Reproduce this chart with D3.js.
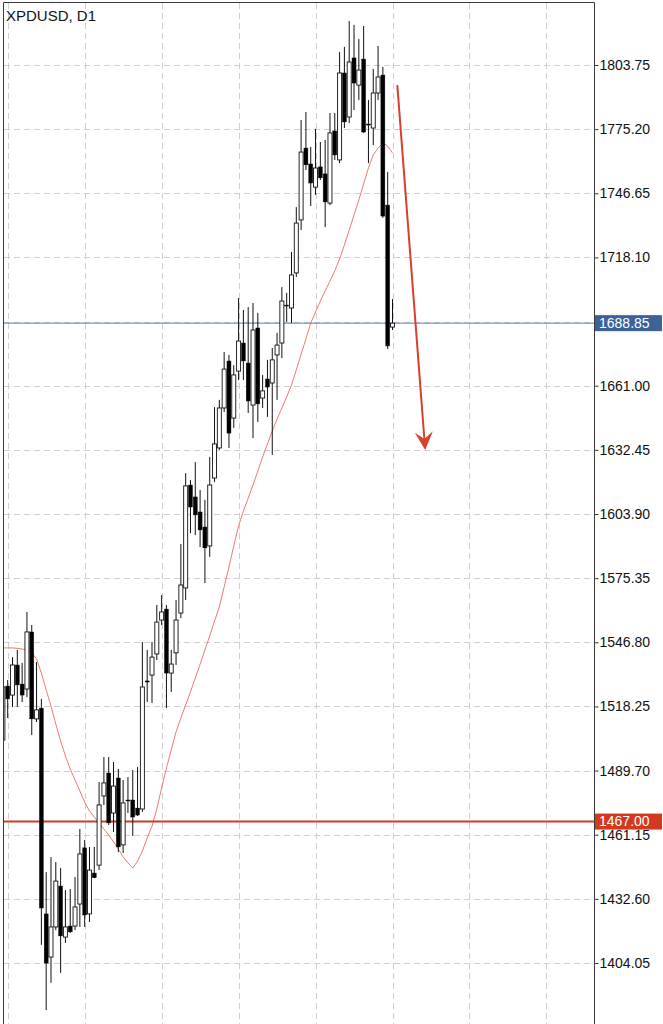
<!DOCTYPE html>
<html><head><meta charset="utf-8">
<script src="https://cdn.jsdelivr.net/npm/d3@7"></script>
<style>html,body{margin:0;padding:0;background:#fff;overflow:hidden}svg{display:block}</style>
</head><body><svg id="c" width="663" height="1024"></svg>
<script>
const chartTitle = "XPDUSD, D1";
const days = d3.range(-1, 81);
const open = [1503.3,1527.3,1523.3,1536.7,1528.2,1526.0,1551.4,1512.7,1517.5,1425.9,1406.7,1420.1,1438.3,1415.6,1420.5,1420.5,1430.3,1455.3,1425.9,1444.1,1447.6,1478.4,1488.6,1470.8,1486.4,1456.6,1476.6,1476.6,1473.0,1472.6,1529.6,1532.2,1541.6,1556.7,1561.6,1533.1,1542.1,1559.8,1571.0,1616.8,1611.5,1604.8,1598.1,1589.7,1619.9,1633.3,1651.1,1672.0,1646.6,1667.5,1680.0,1671.1,1652.4,1686.7,1655.5,1664.0,1662.2,1674.7,1680.0,1696.9,1695.6,1711.2,1734.8,1766.8,1759.7,1749.4,1758.4,1755.3,1742.3,1774.4,1761.5,1800.2,1780.6,1806.9,1794.8,1806.4,1777.5,1775.7,1791.3,1799.3,1741.4,1687.1];
const high = [1530.0,1530.0,1540.2,1543.4,1537.6,1560.3,1554.5,1538.0,1521.6,1444.5,1451.2,1449.0,1446.3,1436.5,1437.0,1442.3,1463.7,1458.8,1455.7,1455.7,1484.6,1495.7,1495.7,1493.5,1490.4,1485.5,1486.8,1490.0,1491.3,1546.9,1543.4,1546.9,1563.4,1567.8,1563.4,1543.4,1565.6,1590.5,1622.1,1619.0,1627.0,1614.6,1610.2,1629.3,1651.5,1654.7,1676.0,1674.7,1670.2,1700.0,1694.7,1696.0,1697.8,1693.4,1665.8,1672.5,1677.8,1684.5,1704.9,1702.3,1720.5,1740.5,1779.3,1782.8,1767.3,1775.3,1769.5,1770.4,1782.4,1782.4,1809.5,1811.8,1823.3,1821.6,1815.3,1821.1,1788.2,1802.0,1812.2,1802.9,1756.1,1699.6];
const low = [1499.7,1513.1,1518.0,1518.0,1520.2,1522.4,1505.5,1511.3,1412.1,1383.1,1395.2,1418.7,1399.6,1413.0,1417.4,1418.7,1420.1,1420.1,1422.3,1441.8,1445.4,1474.4,1465.5,1462.4,1453.4,1453.0,1470.8,1460.6,1469.5,1471.3,1520.2,1519.8,1538.9,1554.5,1517.5,1524.7,1536.7,1557.6,1565.6,1595.4,1594.5,1589.2,1573.2,1584.8,1618.1,1632.4,1649.3,1633.3,1642.2,1663.5,1663.5,1648.9,1637.7,1644.9,1651.1,1647.1,1630.2,1654.7,1673.3,1689.4,1688.9,1709.4,1730.3,1757.0,1741.0,1745.9,1752.6,1731.6,1741.4,1761.5,1760.1,1775.7,1777.9,1783.7,1788.2,1773.5,1760.1,1768.1,1788.2,1735.7,1677.3,1685.8];
const close = [1526.9,1521.6,1536.7,1527.8,1523.3,1551.4,1512.7,1516.7,1428.5,1404.0,1420.1,1440.5,1416.1,1420.1,1417.9,1429.0,1452.6,1425.4,1445.4,1442.0,1474.4,1484.2,1466.4,1482.8,1455.7,1475.3,1476.2,1469.0,1469.9,1526.9,1529.1,1540.2,1555.8,1560.3,1533.1,1537.1,1556.7,1572.3,1616.4,1607.0,1603.5,1596.8,1588.8,1616.8,1635.1,1651.1,1668.4,1639.9,1665.8,1680.9,1672.0,1654.2,1685.8,1652.9,1658.7,1660.4,1672.5,1679.1,1698.7,1696.5,1710.3,1733.4,1765.0,1759.3,1751.2,1757.9,1753.5,1742.8,1773.5,1763.7,1800.2,1778.4,1805.1,1795.7,1801.5,1773.9,1777.0,1791.3,1798.4,1736.5,1678.7,1688.85];
const maValues = [1544.3,1544.3,1544.3,1544.1,1543.8,1543.4,1542.1,1539.4,1533.1,1525.6,1518.4,1510.4,1502.9,1496.2,1490.4,1485.5,1480.6,1475.7,1471.7,1469.0,1466.4,1463.7,1461.0,1457.9,1454.8,1451.2,1448.6,1446.3,1449.4,1453.9,1459.7,1465.0,1472.6,1481.9,1490.8,1498.9,1506.9,1513.1,1518.9,1524.7,1530.9,1537.1,1543.4,1549.6,1556.3,1562.5,1571.4,1580.3,1589.7,1598.6,1605.2,1611.0,1616.8,1623.0,1629.3,1635.1,1640.8,1646.2,1651.1,1656.0,1661.3,1668.0,1675.1,1681.8,1688.9,1693.8,1698.7,1703.2,1707.6,1712.1,1717.4,1723.6,1730.3,1737.0,1743.7,1750.8,1757.9,1763.7,1766.8,1769.0,1767.7,1764.6];
const priceTicks = [1803.75,1775.20,1746.65,1718.10,1689.55,1661.00,1632.45,1603.90,1575.35,1546.80,1518.25,1489.70,1461.15,1432.60,1404.05];
const gridDays = [0,16,32,48,64,80,96,112];
const currentPrice = 1688.85;
const levelPrice = 1467.00;
const arrowFrom = [81.0, 1794.8];
const arrowTo = [86.8, 1632.4];

const svg = d3.select("#c");
const plotL = 4, plotT = 3, plotR = 594, plotB = 1024;
const x = d3.scaleLinear().domain([0, 80]).range([7.7, 392.5]);
const y = d3.scaleLinear().domain([1404.05, 1803.75]).range([963, 65]);
const font = "'Liberation Sans', Arial, Helvetica, sans-serif";

svg.append("rect").attr("width", 663).attr("height", 1024).attr("fill", "#fff");
svg.append("defs").append("clipPath").attr("id", "plotclip")
  .append("rect").attr("x", plotL).attr("y", plotT).attr("width", plotR - plotL).attr("height", plotB - plotT);

// grid
const grid = svg.append("g").attr("stroke", "#cfcfcf").attr("stroke-width", 1).attr("stroke-dasharray", "6,4");
grid.selectAll("line.h").data(priceTicks).join("line").attr("class", "h")
  .attr("x1", plotL).attr("x2", plotR)
  .attr("y1", d => Math.round(y(d)) + 0.5).attr("y2", d => Math.round(y(d)) + 0.5);
grid.selectAll("line.v").data(gridDays).join("line").attr("class", "v")
  .attr("x1", d => Math.round(x(d)) + 0.5).attr("x2", d => Math.round(x(d)) + 0.5)
  .attr("y1", plotT).attr("y2", plotB);

const plot = svg.append("g").attr("clip-path", "url(#plotclip)");

// moving average
plot.append("path").datum(maValues)
  .attr("fill", "none").attr("stroke", "#f07b6f").attr("stroke-width", 1)
  .attr("d", d3.line().x((d, i) => x(days[i])).y(d => y(d)));

// level lines
plot.append("line").attr("x1", plotL).attr("x2", plotR)
  .attr("y1", y(currentPrice)).attr("y2", y(currentPrice))
  .attr("stroke", "#5b7fb6").attr("stroke-width", 1);
plot.append("line").attr("x1", plotL).attr("x2", plotR)
  .attr("y1", y(levelPrice)).attr("y2", y(levelPrice))
  .attr("stroke", "#d23a27").attr("stroke-width", 2);

// candles
const bw = 4.0;
const candles = plot.append("g");
days.forEach((d, i) => {
  const cx = x(d);
  const up = close[i] >= open[i];
  candles.append("line")
    .attr("x1", cx).attr("x2", cx).attr("y1", y(high[i])).attr("y2", y(low[i]))
    .attr("stroke", "#111").attr("stroke-width", 1);
  const top = y(Math.max(open[i], close[i]));
  const bot = y(Math.min(open[i], close[i]));
  candles.append("rect")
    .attr("x", cx - bw / 2).attr("y", top)
    .attr("width", bw).attr("height", Math.max(1, bot - top))
    .attr("fill", up ? "#fff" : "#000")
    .attr("stroke", "#111").attr("stroke-width", up ? 0.9 : 0.4);
});

// arrow
const ax1 = x(arrowFrom[0]), ay1 = y(arrowFrom[1]);
const ax2 = x(arrowTo[0]), ay2 = y(arrowTo[1]);
const ang = Math.atan2(ay2 - ay1, ax2 - ax1);
const ux = Math.cos(ang), uy = Math.sin(ang), px = -uy, py = ux;
const hl = 18, hw = 9, notch = 11;
plot.append("line").attr("x1", ax1).attr("y1", ay1)
  .attr("x2", ax2 - ux * notch).attr("y2", ay2 - uy * notch)
  .attr("stroke", "#d8402b").attr("stroke-width", 2);
plot.append("path").attr("fill", "#d8402b")
  .attr("d", `M${ax2},${ay2} L${ax2 - ux*hl + px*hw},${ay2 - uy*hl + py*hw} L${ax2 - ux*notch},${ay2 - uy*notch} L${ax2 - ux*hl - px*hw},${ay2 - uy*hl - py*hw} Z`);

// frame
svg.append("path").attr("fill", "none").attr("stroke", "#3a3a3a").attr("stroke-width", 1)
  .attr("d", `M${plotL - 0.5},${plotB} V${plotT - 0.5} H${plotR + 0.5} V${plotB}`);

// axis
const axis = svg.append("g").attr("transform", `translate(${plotR + 0.5},0)`)
  .call(d3.axisRight(y).tickValues(priceTicks).tickSize(4).tickPadding(1).tickFormat(d3.format(".2f")));
axis.select(".domain").remove();
axis.selectAll(".tick line").attr("stroke", "#3a3a3a");
axis.selectAll(".tick text").attr("fill", "#111").style("font-family", font).style("font-size", "14px");

// price boxes
function priceBox(p, color) {
  const yy = y(p);
  svg.append("rect").attr("x", plotR + 1).attr("y", yy - 8).attr("width", 67).attr("height", 16).attr("fill", color);
  svg.append("text").attr("x", plotR + 5).attr("y", yy).attr("dy", "0.35em")
    .attr("fill", "#fff").style("font-family", font).style("font-size", "14px").text(p.toFixed(2));
}
priceBox(currentPrice, "#3d6199");
priceBox(levelPrice, "#d2391f");

// title
svg.append("text").attr("x", 6).attr("y", 21).attr("fill", "#111")
  .style("font-family", font).style("font-size", "15px").text(chartTitle);
</script></body></html>
